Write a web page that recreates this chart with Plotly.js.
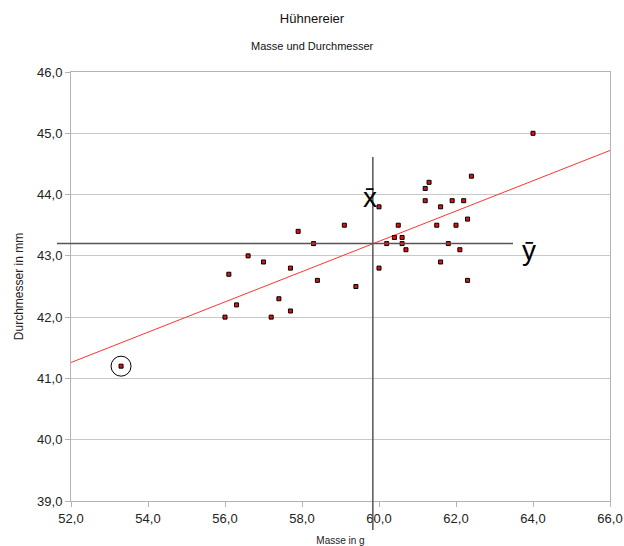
<!DOCTYPE html>
<html>
<head>
<meta charset="utf-8">
<script src="https://cdn.plot.ly/plotly-3.0.1.min.js"></script>
<style>html,body{margin:0;padding:0;background:#fff;}</style>
</head>
<body>
<div id="chart" style="width:624px;height:546px;"></div>
<script>
// Masse in g
const masse = [57.9, 59.1, 60.0, 58.3, 60.5, 60.4, 60.6, 60.2, 60.6, 60.7,
  56.6, 57.0, 56.1, 57.7, 60.0, 58.4, 59.4, 56.3, 57.4, 57.7, 56.0, 57.2,
  64.0, 61.3, 62.4, 61.2, 61.2, 61.9, 62.2, 61.6, 62.3, 61.5, 62.0, 61.8, 62.1, 61.6, 62.3,
  53.3];
// Durchmesser in mm
const durchmesser = [43.4, 43.5, 43.8, 43.2, 43.5, 43.3, 43.3, 43.2, 43.2, 43.1,
  43.0, 42.9, 42.7, 42.8, 42.8, 42.6, 42.5, 42.2, 42.3, 42.1, 42.0, 42.0,
  45.0, 44.2, 44.3, 44.1, 43.9, 43.9, 43.9, 43.8, 43.6, 43.5, 43.5, 43.2, 43.1, 42.9, 42.6,
  41.2];
// linear trend line
const trendX = [52.0, 66.0];
const trendY = [41.26, 44.72];
// means (drawn lines)
const xMean = 59.84;
const yMean = 43.2;
// outlier circled
const outlier = {x: 53.3, y: 41.2};

const xRange = [52, 66];
const yRange = [39, 46];

const font = "'Liberation Sans', Arial, sans-serif";

const traces = [
  {
    x: trendX, y: trendY, type: 'scatter', mode: 'lines',
    line: {color: '#ff3333', width: 1}, hoverinfo: 'skip'
  },
  {
    x: masse, y: durchmesser, type: 'scatter', mode: 'markers',
    marker: {symbol: 'square', size: 4, color: '#e01010', line: {color: '#000', width: 1}}
  }
];

const px = v => (v - xRange[0]) / (xRange[1] - xRange[0]);
const py = v => (v - yRange[0]) / (yRange[1] - yRange[0]);

const layout = {
  width: 624, height: 546,
  margin: {l: 71, r: 14, t: 72, b: 45},
  paper_bgcolor: '#fff', plot_bgcolor: '#fff',
  showlegend: false,
  separators: ',.',
  font: {family: font, color: '#222'},
  title: {text: 'Hühnereier', font: {size: 13, color: '#111'}, x: 0.5, xanchor: 'center', y: 1 - 18/546, yanchor: 'middle'},
  xaxis: {
    range: xRange, dtick: 2, tick0: 52, tickformat: '.1f',
    showgrid: false, zeroline: false,
    showline: true, linecolor: '#b3b3b3', linewidth: 1, mirror: true,
    ticks: 'outside', ticklen: 5, tickcolor: '#b3b3b3',
    tickfont: {size: 13, color: '#222'},
    title: {text: 'Masse in g', font: {size: 10, color: '#222'}, standoff: 12}
  },
  yaxis: {
    range: yRange, dtick: 1, tick0: 39, tickformat: '.1f',
    showgrid: true, gridcolor: '#c8c8c8', gridwidth: 1, zeroline: false,
    showline: true, linecolor: '#b3b3b3', linewidth: 1, mirror: true,
    ticks: 'outside', ticklen: 5, tickcolor: '#b3b3b3',
    tickfont: {size: 13, color: '#222'},
    title: {text: 'Durchmesser in mm', font: {size: 12, color: '#222'}, standoff: 10}
  },
  shapes: [
    {type: 'line', xref: 'paper', yref: 'paper', x0: px(xMean), x1: px(xMean), y0: (501-157)/429, y1: (501-530)/429,
     line: {color: '#555', width: 1.5}},
    {type: 'line', xref: 'paper', yref: 'paper', x0: -14/539, x1: (513-71)/539, y0: py(yMean), y1: py(yMean),
     line: {color: '#555', width: 1.5}},
    {type: 'circle', xref: 'x', yref: 'y', xsizemode: 'pixel', ysizemode: 'pixel',
     xanchor: outlier.x, yanchor: outlier.y, x0: -10, x1: 10, y0: -10, y1: 10,
     line: {color: '#000', width: 1}}
  ],
  annotations: [
    {text: 'Masse und Durchmesser', xref: 'paper', yref: 'paper', x: 0.5 - (71-14)/2/539 + 0.0, y: 1 + 26/429,
     xanchor: 'center', yanchor: 'middle', showarrow: false, font: {size: 11, color: '#111'}},
    {text: 'x\u0304', xref: 'paper', yref: 'paper', x: px(xMean) - 3/539, y: (501-197)/429,
     xanchor: 'center', yanchor: 'middle', showarrow: false, font: {size: 28, color: '#000'}},
    {text: 'y\u0304', xref: 'paper', yref: 'paper', x: (529-71)/539, y: (501-250)/429,
     xanchor: 'center', yanchor: 'middle', showarrow: false, font: {size: 28, color: '#000'}}
  ]
};

Plotly.newPlot('chart', traces, layout, {displayModeBar: false, staticPlot: true});
</script>
</body>
</html>
